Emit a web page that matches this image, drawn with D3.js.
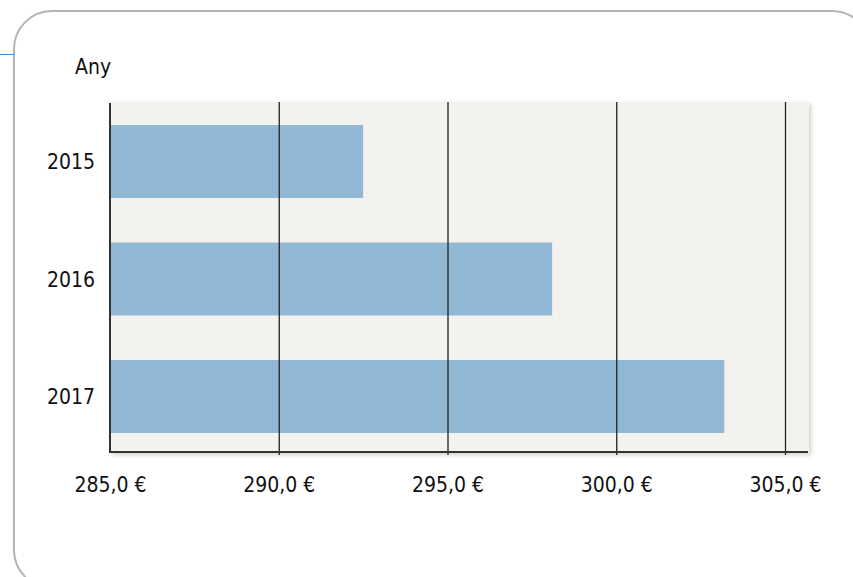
<!DOCTYPE html>
<html lang="en">
<head>
<meta charset="UTF-8">
<title>Any</title>
<script src="https://d3js.org/d3.v7.min.js"></script>
<style>
    body { margin: 0; background: #fff; }
    svg { display: block; }
    text { font-family: "DejaVu Sans Condensed", "DejaVu Sans", sans-serif; fill: #111; }
</style>
</head>
<body>
<svg id="chart" width="853" height="577"></svg>
<script>
// data
const years = ["2015", "2016", "2017"];
const amounts = [292.5, 298.1, 303.2];
const xTicks = [285, 290, 295, 300, 305];
const axisTitle = "Any";

const svg = d3.select("#chart");

// plot box
const plot = { left: 110, top: 102, right: 809, bottom: 453 };

// outer frame + little blue line on the left
svg.append("rect")
    .attr("x", 14).attr("y", 11)
    .attr("width", 856).attr("height", 577)
    .attr("rx", 38).attr("ry", 38)
    .attr("fill", "#fff")
    .attr("stroke", "#b4b4b4")
    .attr("stroke-width", 2);
svg.append("line")
    .attr("x1", 0).attr("x2", 14)
    .attr("y1", 54.5).attr("y2", 54.5)
    .attr("stroke", "#3d8ccb")
    .attr("stroke-width", 1);

// soft shadow under plot area
const defs = svg.append("defs");
const f = defs.append("filter").attr("id", "shadow")
    .attr("x", "-5%").attr("y", "-5%").attr("width", "110%").attr("height", "110%");
f.append("feDropShadow")
    .attr("dx", 2).attr("dy", 2).attr("stdDeviation", 2)
    .attr("flood-color", "#b8b39a").attr("flood-opacity", 0.6);

svg.append("rect")
    .attr("x", plot.left).attr("y", plot.top)
    .attr("width", plot.right - plot.left)
    .attr("height", plot.bottom - plot.top)
    .attr("fill", "#f3f2ee")
    .attr("filter", "url(#shadow)");

const x = d3.scaleLinear().domain([285, 305]).range([plot.left, 785]);
const y = d3.scaleBand().domain(years)
    .range([plot.top + 4, plot.bottom - 1])
    .paddingInner(0.379)
    .paddingOuter(0.162);

// bars
svg.selectAll(".bar")
    .data(years)
    .enter().append("rect")
    .attr("class", "bar")
    .attr("x", x(285))
    .attr("y", d => y(d))
    .attr("height", y.bandwidth())
    .attr("width", (d, i) => x(amounts[i]) - x(285))
    .attr("fill", "#91b8d4");

// vertical grid lines + tick labels
const euro = d3.formatLocale({ decimal: ",", thousands: ".", grouping: [3], currency: ["", " €"] });
const fmt = v => euro.format(".1f")(v) + " €";

const xAxis = svg.append("g")
    .attr("transform", `translate(0,${plot.bottom + 2})`)
    .call(d3.axisBottom(x)
        .tickValues(xTicks)
        .tickSize(-(plot.bottom + 2 - plot.top))
        .tickPadding(22)
        .tickFormat(fmt));
xAxis.select(".domain").remove();
xAxis.selectAll(".tick line")
    .attr("stroke", "#222")
    .attr("stroke-width", 1.3)
    .filter(d => d === 285).remove();
xAxis.selectAll(".tick text")
    .style("font-size", "21px")
    .attr("fill", "#111");

// axis lines
svg.append("line")
    .attr("x1", plot.left).attr("x2", plot.left)
    .attr("y1", plot.top + 1).attr("y2", plot.bottom)
    .attr("stroke", "#333").attr("stroke-width", 2);
svg.append("line")
    .attr("x1", plot.left).attr("x2", plot.right - 1)
    .attr("y1", plot.bottom - 1).attr("y2", plot.bottom - 1)
    .attr("stroke", "#333").attr("stroke-width", 2);

// year labels
svg.selectAll(".ylab")
    .data(years)
    .enter().append("text")
    .attr("class", "ylab")
    .attr("x", 95)
    .attr("y", d => y(d) + y.bandwidth() / 2)
    .attr("dy", "0.36em")
    .attr("text-anchor", "end")
    .style("font-size", "21px")
    .text(d => d);

// axis title
svg.append("text")
    .attr("x", 75).attr("y", 74)
    .style("font-size", "21px")
    .text(axisTitle);
</script>
</body>
</html>
